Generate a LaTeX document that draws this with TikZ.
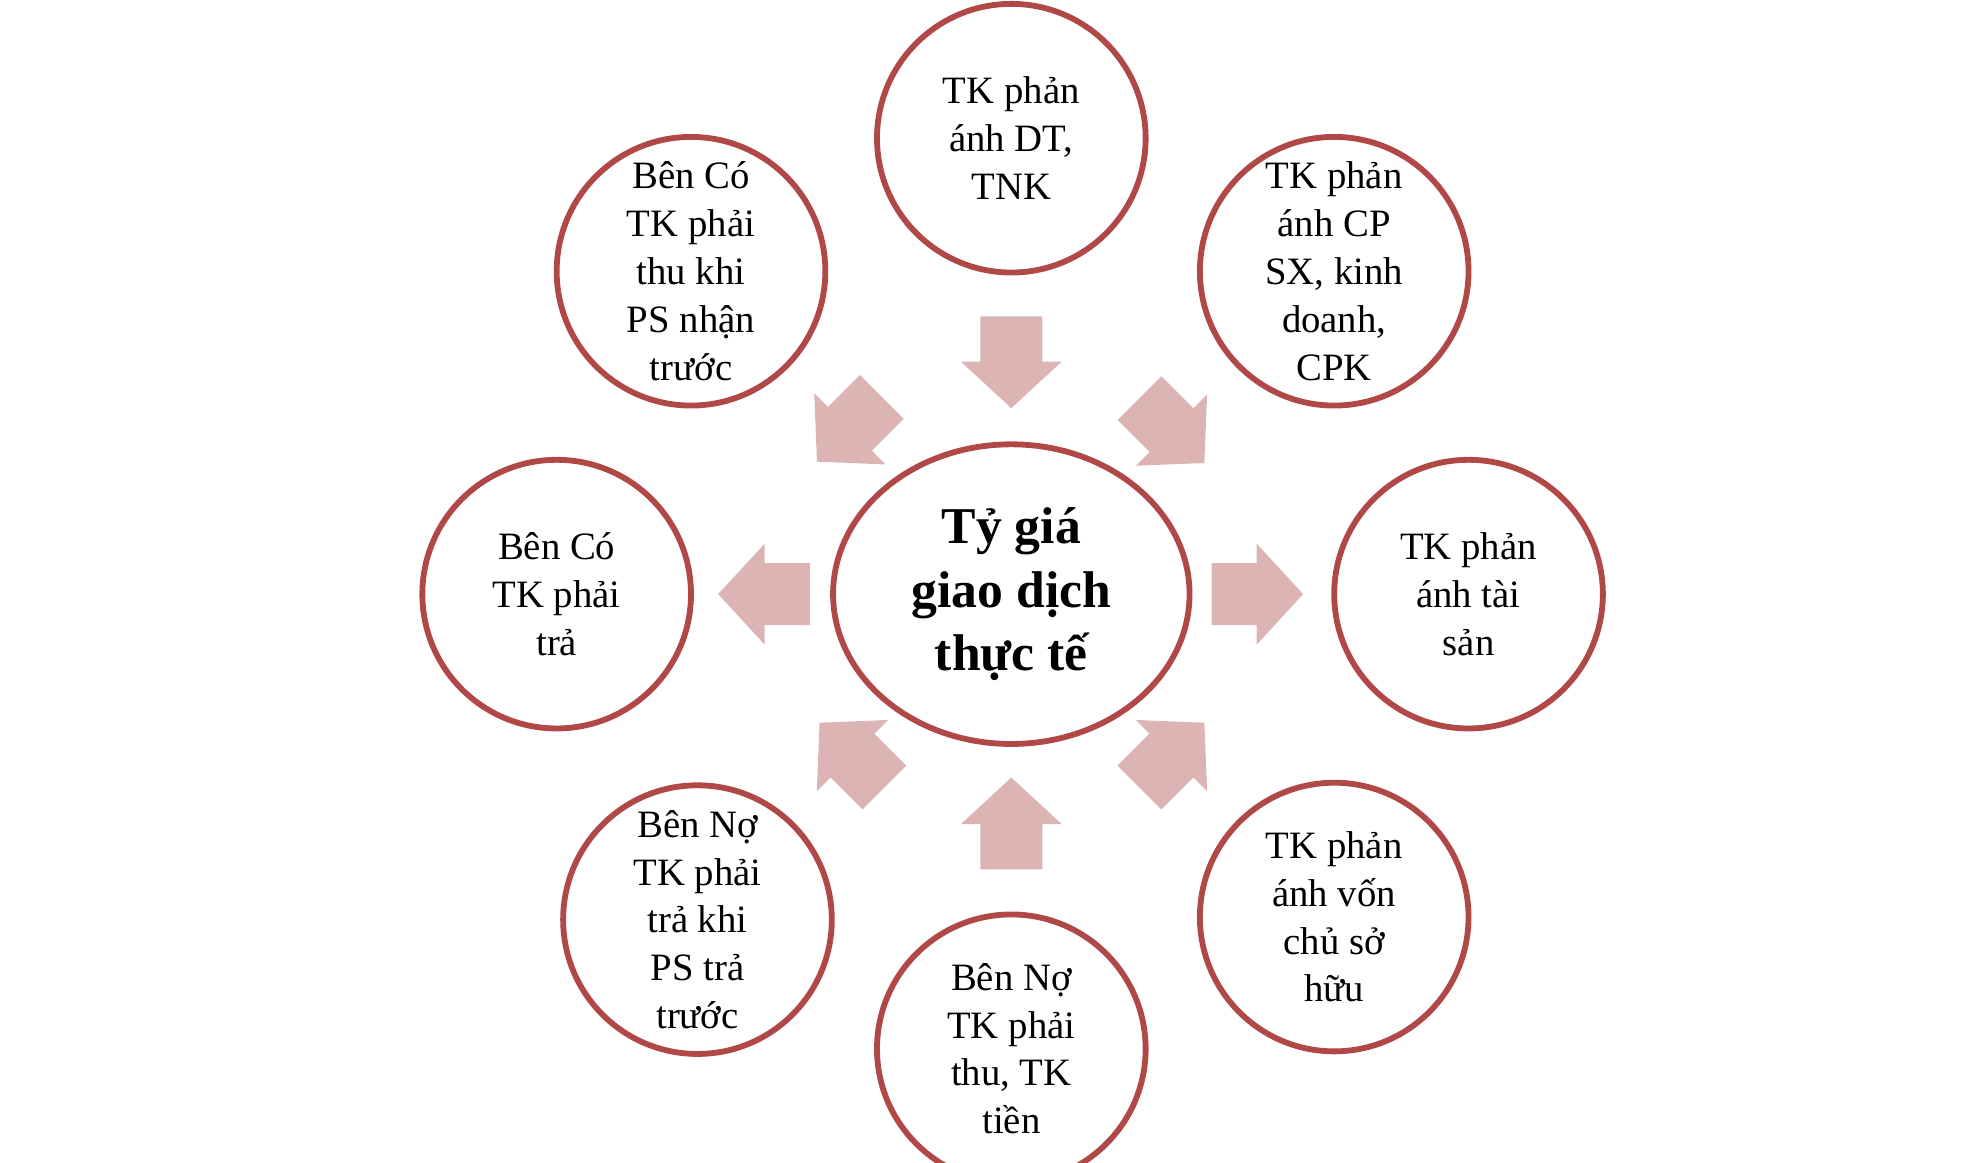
\documentclass[tikz,border=0pt]{standalone}
\usepackage{fontspec}
\setmainfont{Liberation Serif}
\usetikzlibrary{shapes.geometric}
\definecolor{ring}{HTML}{B04848}
\definecolor{arr}{HTML}{DDB4B4}
\tikzset{
 circ/.style={circle,draw=ring,line width=4.5pt,minimum size=208pt,inner sep=0pt,align=center,font=\fontsize{30}{37}\selectfont},
 blkarrow/.pic={\fill[arr] (-35,-24) -- (0,-24) -- (0,-39) -- (36,0) -- (0,39) -- (0,24) -- (-35,24) -- cycle;}
}
\begin{document}
\begin{tikzpicture}[x=1pt,y=-1pt]
\useasboundingbox (0,0) rectangle (1533,900);
\node[ellipse,draw=ring,line width=4.5pt,minimum width=276pt,minimum height=232pt,align=center,font=\bfseries\fontsize{40}{49}\selectfont] (c) at (783,460) {Tỷ giá\\giao dịch\\thực tế};
\node[circ] (n1) at (783,107) {TK phản\\ánh DT,\\TNK};
\node[circ] (n2) at (1033,210) {TK phản\\ánh CP\\SX, kinh\\doanh,\\CPK};
\node[circ] (n3) at (1137,460) {TK phản\\ánh tài\\sản};
\node[circ] (n4) at (1033,710) {TK phản\\ánh vốn\\chủ sở\\hữu};
\node[circ] (n5) at (783,812) {Bên Nợ\\TK phải\\thu, TK\\tiền};
\node[circ] (n6) at (540,712) {Bên Nợ\\TK phải\\trả khi\\PS trả\\trước};
\node[circ] (n7) at (431,460) {Bên Có\\TK phải\\trả};
\node[circ] (n8) at (535,210) {Bên Có\\TK phải\\thu khi\\PS nhận\\trước};
\pic[rotate=-90] at (783,280) {blkarrow};
\pic[rotate=-45] at (907,333) {blkarrow};
\pic[rotate=0] at (973,460) {blkarrow};
\pic[rotate=45] at (907,585) {blkarrow};
\pic[rotate=90] at (783,638) {blkarrow};
\pic[rotate=135] at (660,585) {blkarrow};
\pic[rotate=180] at (592,460) {blkarrow};
\pic[rotate=-135] at (658,332) {blkarrow};
\end{tikzpicture}
\end{document}
